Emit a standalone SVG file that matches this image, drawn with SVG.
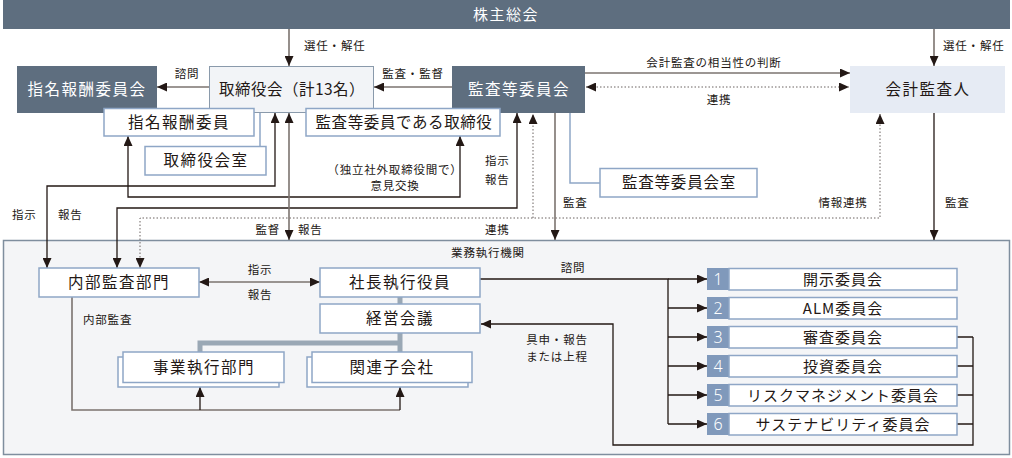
<svg xmlns="http://www.w3.org/2000/svg" width="1012" height="458" viewBox="0 0 1012 458">
<defs>
<style>
text{font-family:"Noto Sans CJK JP","Noto Sans",sans-serif;fill:#231815}
.big{font-size:15.5px;text-anchor:middle;letter-spacing:1.5px}
.wt{fill:#ffffff}
.lb{font-size:11.5px;letter-spacing:0.8px}
.c{text-anchor:middle}
.dark{fill:#5e6e7f}
.wb{fill:#ffffff;stroke:#8ea6c6;stroke-width:1.5}
.ln{fill:none;stroke:#231815;stroke-width:1.3}
.gl{fill:none;stroke:#7b736f;stroke-width:1.6}
.dt{fill:none;stroke:#6b6360;stroke-width:1;stroke-dasharray:1.5 2}
.bl{fill:none;stroke:#8ea6c6;stroke-width:1.5}
.gr{fill:none;stroke:#9aa8b5;stroke-width:5}
.num{fill:#8099bb}
.nt{font-family:"Noto Sans","Liberation Sans",sans-serif;font-size:16px;fill:#ffffff;text-anchor:middle;font-weight:300}
</style>
<marker id="a" viewBox="0 0 10 9" refX="10" refY="4.5" markerWidth="10" markerHeight="9" markerUnits="userSpaceOnUse" orient="auto-start-reverse">
<path d="M0,0 L10,4.5 L0,9 z" fill="#231815"/>
</marker>
</defs>
<rect width="1012" height="458" fill="#ffffff"/>

<g id="business">
<rect x="3.5" y="240.5" width="1006" height="214" fill="#f4f5f7" stroke="#7f8e9e" stroke-width="1.5"/>
<text x="488" y="257" class="lb c">業務執行機関</text>
</g>

<g id="shareholders">
<rect x="3" y="0" width="1007" height="29" class="dark"/>
<text x="506" y="20" class="big wt" style="font-size:15px">株主総会</text>
</g>

<g id="connectors">
<!-- thin blue sub-links -->
<path class="bl" d="M260,113 V146"/>
<path class="bl" d="M570,113 V183 H600"/>
<!-- gray thick -->
<path class="gr" d="M400,297 V304 M400,333 V352 M200,352 V343 H402"/>
<!-- from shareholders -->
<path class="gl" d="M289,29 V66" marker-end="url(#a)"/>
<path class="gl" d="M934,29 V66" marker-end="url(#a)"/>
<!-- top row -->
<path class="gl" d="M209,87 H157" marker-end="url(#a)"/>
<path class="gl" d="M452,87 H374" marker-end="url(#a)"/>
<path class="gl" d="M585,73 H850" marker-end="url(#a)"/>
<path class="dt" d="M586,87 H849" marker-start="url(#a)" marker-end="url(#a)"/>
<!-- auditors audit -->
<path class="ln" d="M934,113 V240" marker-end="url(#a)"/>
<!-- dotted info links -->
<path class="dt" d="M880,114 V218 H140 V268" marker-start="url(#a)" marker-end="url(#a)"/>
<path class="dt" d="M533,218 V114" marker-end="url(#a)"/>
<!-- board <-> internal audit -->
<path class="ln" d="M275,113 V186 H47 V268" marker-start="url(#a)" marker-end="url(#a)"/>
<!-- opinion exchange -->
<path class="ln" d="M128,136 V197 H460 V136" marker-start="url(#a)" marker-end="url(#a)"/>
<!-- audit committee <-> internal audit -->
<path class="ln" d="M517,113 V208 H117 V268" marker-start="url(#a)" marker-end="url(#a)"/>
<!-- board supervise/report -->
<path class="gl" d="M289,113 V240" marker-start="url(#a)" marker-end="url(#a)"/>
<!-- audit committee audit -->
<path class="gl" d="M555,113 V240" marker-end="url(#a)"/>
<!-- internal audit <-> president -->
<path class="gl" d="M199,282 H320" marker-start="url(#a)" marker-end="url(#a)"/>
<!-- internal audit to divisions -->
<path class="gl" d="M72,297 V410 H400"/>
<path class="ln" d="M400,410 V387" marker-end="url(#a)"/>
<path class="ln" d="M200,410 V387" marker-end="url(#a)"/>
<!-- consultation -->
<path class="ln" d="M480,279 H668 V424"/>
<path class="ln" d="M668,279 H707" marker-end="url(#a)"/>
<path class="ln" d="M668,308 H707" marker-end="url(#a)"/>
<path class="ln" d="M668,337 H707" marker-end="url(#a)"/>
<path class="ln" d="M668,366 H707" marker-end="url(#a)"/>
<path class="ln" d="M668,395 H707" marker-end="url(#a)"/>
<path class="ln" d="M668,424 H707" marker-end="url(#a)"/>
<!-- report back -->
<path class="ln" d="M957,337 H973 M957,366 H973 M957,395 H973 M957,424 H973"/>
<path class="ln" d="M973,337 V445 H613 V324 H481" marker-end="url(#a)"/>
</g>

<g id="labels">
<text x="304" y="50" class="lb">選任・解任</text>
<text x="943" y="50" class="lb">選任・解任</text>
<text x="187" y="78" class="lb c">諮問</text>
<text x="413" y="78" class="lb c">監査・監督</text>
<text x="714" y="67" class="lb c">会計監査の相当性の判断</text>
<text x="719" y="104" class="lb c">連携</text>
<text x="395" y="174" class="lb c">（独立社外取締役間で）</text>
<text x="395" y="190" class="lb c">意見交換</text>
<text x="485" y="165" class="lb">指示</text>
<text x="485" y="184" class="lb">報告</text>
<text x="563" y="207" class="lb">監査</text>
<text x="843" y="207" class="lb c">情報連携</text>
<text x="945" y="207" class="lb">監査</text>
<text x="12" y="219" class="lb">指示</text>
<text x="58" y="219" class="lb">報告</text>
<text x="280" y="234" class="lb" text-anchor="end">監督</text>
<text x="298" y="234" class="lb">報告</text>
<text x="485" y="234" class="lb">連携</text>
<text x="260" y="274" class="lb c">指示</text>
<text x="260" y="299" class="lb c">報告</text>
<text x="573" y="272" class="lb c">諮問</text>
<text x="83" y="324" class="lb">内部監査</text>
<text x="557" y="344" class="lb c">具申・報告</text>
<text x="557" y="361" class="lb c">または上程</text>
</g>

<g id="nomcomm">
<rect x="17" y="66" width="140" height="47" class="dark"/>
<text x="87" y="95" class="big wt">指名報酬委員会</text>
</g>
<g id="board">
<rect x="209.5" y="66.5" width="164" height="46" fill="#f2f4f7" stroke="#8a9aab" stroke-width="1"/>
<text x="292" y="95" class="big" style="letter-spacing:0.5px">取締役会（計13名）</text>
</g>
<g id="auditcomm">
<rect x="452" y="66" width="133" height="47" class="dark"/>
<text x="519" y="95" class="big wt">監査等委員会</text>
</g>
<g id="accountant">
<rect x="850" y="66" width="155" height="47" fill="#e6ebf4"/>
<text x="928" y="95" class="big">会計監査人</text>
</g>
<g id="nommember">
<rect x="104" y="108.5" width="150" height="27.5" class="wb"/>
<text x="179" y="128" class="big">指名報酬委員</text>
</g>
<g id="boardoffice">
<rect x="145" y="146.5" width="121" height="28.5" class="wb"/>
<text x="206" y="166" class="big">取締役会室</text>
</g>
<g id="auditdirector">
<rect x="306" y="108.5" width="194" height="27.5" class="wb"/>
<text x="404" y="128" class="big" style="letter-spacing:0.6px">監査等委員である取締役</text>
</g>
<g id="auditoffice">
<rect x="600" y="168.5" width="157" height="28.5" class="wb"/>
<text x="679" y="188" class="big" style="letter-spacing:0.8px">監査等委員会室</text>
</g>
<g id="internalaudit">
<rect x="39" y="268" width="160" height="29" class="wb"/>
<text x="119" y="288" class="big">内部監査部門</text>
</g>
<g id="president">
<rect x="320" y="268" width="160" height="29" class="wb"/>
<text x="400" y="288" class="big">社長執行役員</text>
</g>
<g id="mgmtmeeting">
<rect x="320" y="304" width="160" height="29" class="wb"/>
<text x="400" y="324" class="big">経営会議</text>
</g>
<g id="divisions">
<rect x="118" y="357" width="161" height="30" class="wb"/>
<rect x="123" y="352" width="161" height="30.5" class="wb"/>
<text x="204" y="373" class="big">事業執行部門</text>
</g>
<g id="subsidiaries">
<rect x="307" y="357" width="161" height="30" class="wb"/>
<rect x="312" y="352" width="160" height="30.5" class="wb"/>
<text x="392" y="373" class="big">関連子会社</text>
</g>
<g id="c1">
<rect x="707" y="268" width="22" height="22" class="num"/>
<rect x="729" y="268.5" width="228" height="21.5" class="wb"/>
<text x="718" y="285" class="nt">1</text>
<text x="843" y="285" class="big" style="font-size:15px;letter-spacing:1px">開示委員会</text>
</g>
<g id="c2">
<rect x="707" y="297" width="22" height="22" class="num"/>
<rect x="729" y="297.5" width="228" height="21.5" class="wb"/>
<text x="718" y="314" class="nt">2</text>
<text x="843" y="314" class="big" style="font-size:15px;letter-spacing:1px">ALM委員会</text>
</g>
<g id="c3">
<rect x="707" y="326" width="22" height="22" class="num"/>
<rect x="729" y="326.5" width="228" height="21.5" class="wb"/>
<text x="718" y="343" class="nt">3</text>
<text x="843" y="343" class="big" style="font-size:15px;letter-spacing:1px">審査委員会</text>
</g>
<g id="c4">
<rect x="707" y="355" width="22" height="22" class="num"/>
<rect x="729" y="355.5" width="228" height="21.5" class="wb"/>
<text x="718" y="372" class="nt">4</text>
<text x="843" y="372" class="big" style="font-size:15px;letter-spacing:1px">投資委員会</text>
</g>
<g id="c5">
<rect x="707" y="384" width="22" height="22" class="num"/>
<rect x="729" y="384.5" width="228" height="21.5" class="wb"/>
<text x="718" y="401" class="nt">5</text>
<text x="843" y="401" class="big" style="font-size:15px;letter-spacing:1px">リスクマネジメント委員会</text>
</g>
<g id="c6">
<rect x="707" y="413" width="22" height="22" class="num"/>
<rect x="729" y="413.5" width="228" height="21.5" class="wb"/>
<text x="718" y="430" class="nt">6</text>
<text x="843" y="430" class="big" style="font-size:15px;letter-spacing:1px">サステナビリティ委員会</text>
</g>
</svg>
